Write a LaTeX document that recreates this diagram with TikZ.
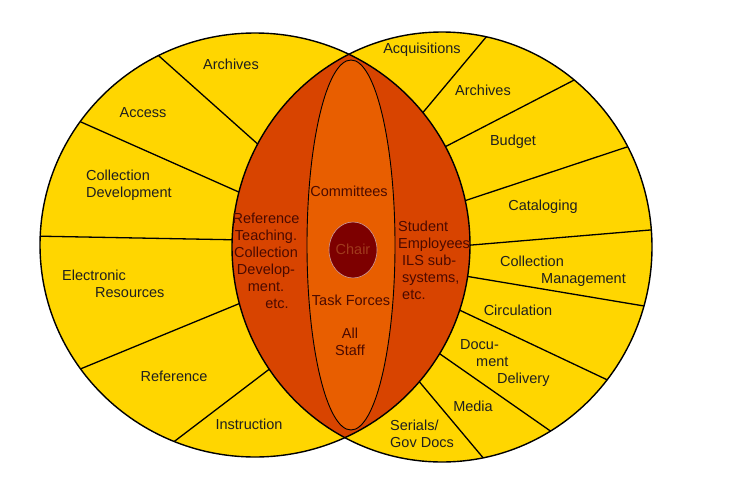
\documentclass[tikz,border=0pt]{standalone}
\usepackage{fontspec}
\setmainfont{Liberation Sans}
\usepackage[svgnames]{xcolor}
\definecolor{SecYellow}{RGB}{255,214,0}
\definecolor{LensOrange}{RGB}{216,68,0}
\definecolor{CoreOrange}{RGB}{232,94,0}
\definecolor{ChairRed}{RGB}{125,0,0}
\definecolor{ChairText}{RGB}{160,58,28}
\definecolor{CoreText}{RGB}{75,10,0}
\tikzset{>=latex,
  area/.style={font=\fontsize{14.5}{17}\selectfont, text=black!88, align=center, inner sep=0pt},
  core/.style={area, text=CoreText},
  divider/.style={line width=1.3pt},
  rim/.style={line width=1.4pt}}

\begin{document}
\begin{tikzpicture}[x=1pt,y=-1pt]
\useasboundingbox (0,0) rectangle (731,490);
\coordinate (L) at (255,245);
\coordinate (R) at (442,247);
\fill[SecYellow] (L) ellipse [x radius=215pt, y radius=212pt];
\fill[SecYellow] (R) ellipse [x radius=210pt, y radius=215pt];
% left sections
\begin{scope}
\clip (L) ellipse [x radius=215pt, y radius=212pt];
\draw[divider] (150,48)--(270,155);
\draw[divider] (72,118)--(250,197);
\draw[divider] (30,236)--(245,240);
\draw[divider] (73,372)--(248,300);
\draw[divider] (167,447)--(280,361);
\end{scope}
% right sections
\begin{scope}
\clip (R) ellipse [x radius=210pt, y radius=215pt];
\draw[divider] (492,30)--(415,122);
\draw[divider] (580,77)--(437,151);
\draw[divider] (636,144)--(455,204);
\draw[divider] (662,229)--(460,246);
\draw[divider] (656,308)--(459,275);
\draw[divider] (616,384)--(453,307);
\draw[divider] (559,437)--(430,347);
\draw[divider] (490,466)--(412,373);
\end{scope}
% overlap
\begin{scope}
\clip (L) ellipse [x radius=215pt, y radius=212pt];
\fill[LensOrange] (R) ellipse [x radius=210pt, y radius=215pt];
\end{scope}
\filldraw[fill=CoreOrange, line width=0.9pt] (351,245) ellipse [x radius=44pt, y radius=185pt];
\filldraw[fill=ChairRed, draw=white!60!ChairRed, line width=0.6pt] (353,250) ellipse [x radius=24pt, y radius=28pt];
\draw[rim] (L) ellipse [x radius=215pt, y radius=212pt];
\draw[rim] (R) ellipse [x radius=210pt, y radius=215pt];

\node[area] (archivesL) at (231,64) {Archives};
\node[area] (access) at (143,113) {Access};
\node[area, align=left, anchor=west] (colldev) at (86,185) {Collection\\Development};
\node[area, align=left, anchor=west] (eres) at (62,284) {Electronic\\\hspace*{33pt}Resources};
\node[area] (reference) at (174,376) {Reference};
\node[area] (instruction) at (249,424) {Instruction};

\node[area] (acq) at (422,50) {Acquisitions};
\node[area] (archivesR) at (483,90) {Archives};
\node[area] (budget) at (513,142) {Budget};
\node[area] (cataloging) at (543,207) {Cataloging};
\node[area, align=left, anchor=west] (collmgmt) at (500,271) {Collection\\\hspace*{41pt}Management};
\node[area] (circulation) at (518,310) {Circulation};
\node[area, align=left, anchor=west] (docdel) at (460,363) {Docu-\\\hspace*{16pt}ment\\\hspace*{37pt}Delivery};
\node[area] (media) at (473,406) {Media};
\node[area, align=left, anchor=west] (serials) at (390,434) {Serials/\\Gov Docs};

\node[core] (teaching) at (266,261) {Reference\\Teaching.\\Collection\\Develop-\\ment.\\\hspace*{22pt}etc.};
\node[core] (committees) at (349,191) {Committees};
\node[area, text=ChairText] (chair) at (353,249) {Chair};
\node[core] (taskforces) at (351,300) {Task Forces};
\node[core] (allstaff) at (350,342) {All\\Staff};
\node[core, align=left, anchor=west] (students) at (398,260) {Student\\Employees\\\hspace*{4pt}ILS sub-\\\hspace*{4pt}systems,\\\hspace*{4pt}etc.};
\end{tikzpicture}
\end{document}
